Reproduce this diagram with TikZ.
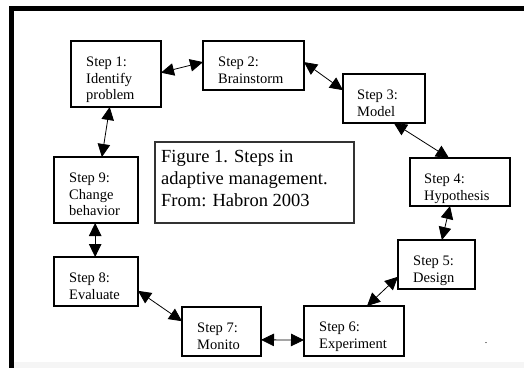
\documentclass[tikz,border=0pt]{standalone}
\usepackage{fontspec}
\setmainfont{Liberation Serif}
\usetikzlibrary{arrows.meta,calc}
\tikzset{
  stepbox/.style={draw=black, line width=2.6pt, fill=white, inner sep=0pt, outer sep=0pt, anchor=north west},
  steptext/.style={anchor=north west, inner sep=0pt, align=left, font=\fontsize{14.5}{16.3}\selectfont},
  figbox/.style={draw=black!80, line width=1.1pt, fill=white, inner sep=0pt, outer sep=0pt, anchor=north west},
  figtext/.style={anchor=north west, inner sep=0pt, align=left, font=\fontsize{18.5}{22}\selectfont},
  biarrow/.style={line width=0.8pt, {Triangle[length=13pt,width=12.5pt]}-{Triangle[length=13pt,width=12.5pt]}},
}
\begin{document}
\begin{tikzpicture}[x=1pt,y=-1pt]
\useasboundingbox (0,0) rectangle (524,368);
\fill[white] (0,0) rectangle (524,368);
% frame
\fill[black!4] (14,362) rectangle (524,368);
\fill[black] (9,6) rectangle (524,11);
\fill[black] (9,6) rectangle (14,368);
% step boxes
\node[stepbox, minimum width=90pt, minimum height=66pt] (n1) at (71,41) {};
\node[stepbox, minimum width=101pt, minimum height=49pt] (n2) at (203,41) {};
\node[stepbox, minimum width=82pt, minimum height=49pt] (n3) at (343,74) {};
\node[stepbox, minimum width=100pt, minimum height=48pt] (n4) at (410,158) {};
\node[stepbox, minimum width=77pt, minimum height=49pt] (n5) at (398,240) {};
\node[stepbox, minimum width=100pt, minimum height=50pt] (n6) at (304,306) {};
\node[stepbox, minimum width=79pt, minimum height=49pt] (n7) at (182,307) {};
\node[stepbox, minimum width=84pt, minimum height=49pt] (n8) at (54,257) {};
\node[stepbox, minimum width=84pt, minimum height=66pt] (n9) at (54,157) {};
\node[figbox, minimum width=199pt, minimum height=81pt] (fig) at (155,142) {};
% texts
\node[steptext] (t1) at ($(n1.north west)+(15,16)$) {Step 1:\\Identify\\problem};
\node[steptext] (t2) at ($(n2.north west)+(15,16)$) {Step 2:\\Brainstorm};
\node[steptext] (t3) at ($(n3.north west)+(14,16)$) {Step 3:\\Model};
\node[steptext] (t4) at ($(n4.north west)+(14,16)$) {Step 4:\\Hypothesis};
\node[steptext] (t5) at ($(n5.north west)+(15,16)$) {Step 5:\\Design};
\node[steptext] (t6) at ($(n6.north west)+(15,16)$) {Step 6:\\Experiment};
\node[steptext] (t7) at ($(n7.north west)+(15,16)$) {Step 7:\\Monito};
\node[steptext] (t8) at ($(n8.north west)+(15,16)$) {Step 8:\\Evaluate};
\node[steptext] (t9) at ($(n9.north west)+(15,16)$) {Step 9:\\Change\\behavior};
\node[figtext] (tf) at ($(fig.north west)+(6,8.5)$) {Figure 1. Steps in\\adaptive management.\\From:  Habron 2003};
\node[inner sep=0pt, font=\fontsize{10}{10}\selectfont] (dot) at (486,343) {.};
% connectors
\draw[biarrow] ($(n1.north east)!0.48!(n1.south east)$) -- ($(n2.north west)!0.43!(n2.south west)$);
\draw[biarrow] ($(n2.north east)!0.43!(n2.south east)$) -- ($(n3.north west)!0.33!(n3.south west)$);
\draw[biarrow] ($(n3.south west)!0.62!(n3.south east)$) -- ($(n4.north west)!0.39!(n4.north east)$);
\draw[biarrow] ($(n4.south west)!0.40!(n4.south east)$) -- ($(n5.north west)!0.57!(n5.north east)$);
\draw[biarrow] ($(n5.north west)!0.75!(n5.south west)$) -- ($(n6.north west)!0.63!(n6.north east)$);
\draw[biarrow] ($(n6.north west)!0.68!(n6.south west)$) -- ($(n7.north east)!0.67!(n7.south east)$);
\draw[biarrow] ($(n7.north west)!0.29!(n7.south west)$) -- ($(n8.north east)!0.69!(n8.south east)$);
\draw[biarrow] ($(n8.north west)!0.49!(n8.north east)$) -- ($(n9.south west)!0.49!(n9.south east)$);
\draw[biarrow] ($(n9.north west)!0.57!(n9.north east)$) -- ($(n1.south west)!0.43!(n1.south east)$);
\end{tikzpicture}
\end{document}
